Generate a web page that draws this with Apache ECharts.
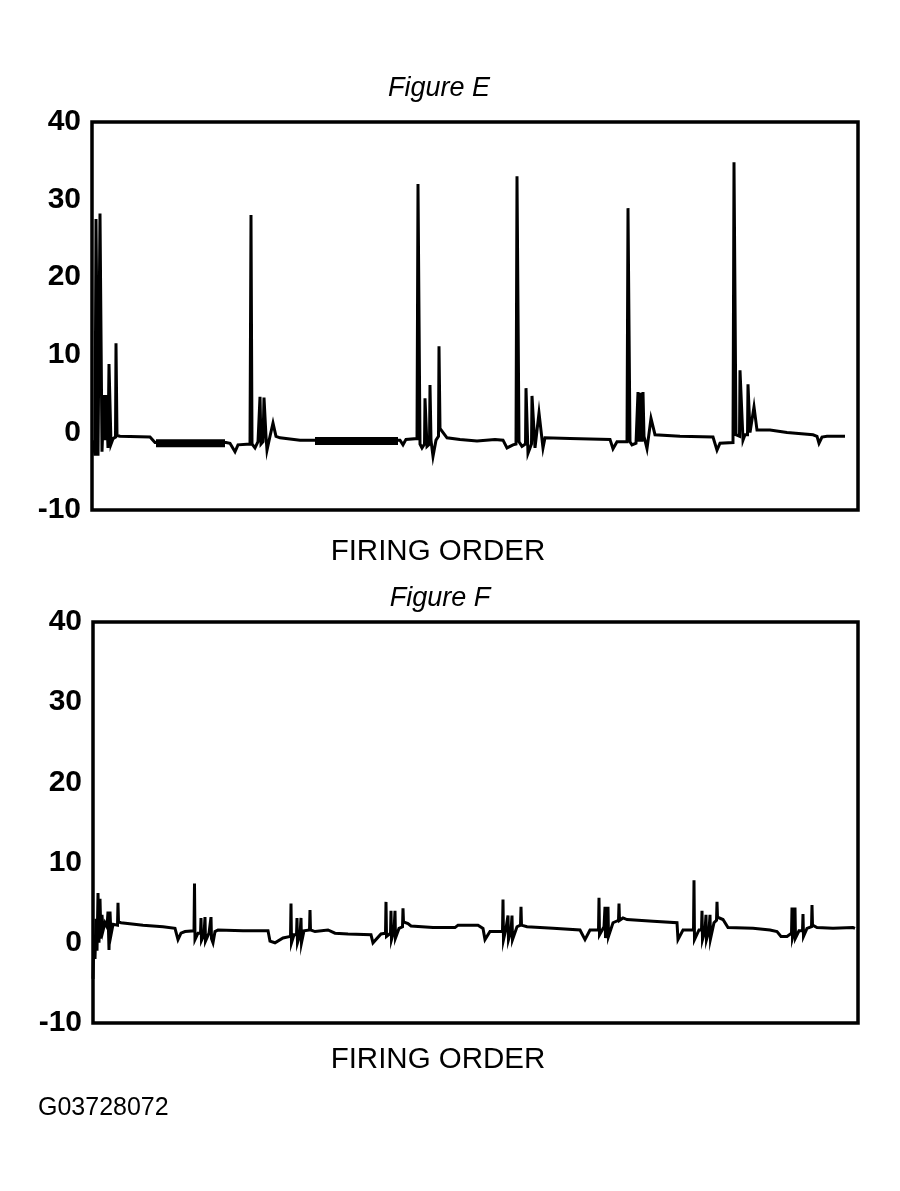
<!DOCTYPE html>
<html>
<head>
<meta charset="utf-8">
<script src="https://cdn.jsdelivr.net/npm/echarts@6/dist/echarts.min.js"></script>
<style>
html,body{margin:0;padding:0;background:#fff;}
#chart{width:900px;height:1191px;}
</style>
</head>
<body>
<div id="chart"></div>
<script>
// Y axis tick labels (kV)
const yTicks = [-10, 0, 10, 20, 30, 40];

// Figure E: time (arbitrary sweep units) and voltage
const eTime = [1,3,4,6,8,10,12,13,14,16,17,19,21,23.5,24,25,28,58,63,134,138,143,146,158,159,160,163,166,167.5,168,169,171,172,173,174,175,177,178,181,184,188,208,221,308,311,314,325,326,328,330,332.5,333,335,337.5,338,339,341,344,346.5,347,348,350,355,368,385,403,411,415,421,424,425,427,430,433.5,434,436,439.5,440,443,447,451,453,478,498,
  518,521,525,535,536,538,540,544,545.5,546,547,549,550,551,552,555,559,563,588,621,625,628,641,642,644,646,647.5,648,651,653,655.5,656,658,660,662,665,678,695,721,725,727,730,735,753];
const eVolt = [-1,-3,27.5,-3,28.2,-2.5,4.8,-1,4.8,-2,8.8,-1.5,-0.8,-0.6,11.5,-0.4,-0.5,-0.6,-1.3,-1.3,-1.4,-2.5,-1.6,-1.5,28,-1.5,-2.0,-1.2,-1.2,4.6,-1.5,-1.2,4.5,4.4,-0.5,-2.3,-2.3,-0.5,1.2,-0.5,-0.7,-1.0,-1.0,-1.0,-1.6,-0.9,-0.8,32,-1.5,-2.0,-1.5,4.4,-1.8,-1.5,6.1,-1,-3.1,-1,-0.5,11.1,0.5,0.3,-0.7,-0.9,-1.1,-0.9,-1.0,-2.0,-1.6,-1.5,33,-1.2,-1.8,-1.5,5.7,-2.7,-1.5,4.7,-2.0,2.5,-2.0,-0.7,-0.8,-0.85,
  -0.9,-2.1,-1.2,-1.2,28.9,-1.2,-1.6,-1.4,-1.4,5.2,-1.2,5.1,-1.2,5.2,-0.5,-2.1,1.8,-0.3,-0.5,-0.6,-2.3,-1.4,-1.3,34.8,-0.3,-0.5,-0.5,8.0,-1.0,-0.3,-0.3,6.2,0.0,0.1,3.3,0.3,0.3,0.0,-0.3,-0.5,-1.4,-0.6,-0.5,-0.5];

// Figure E: noisy (thick) baseline stretches
const bandStart = [64, 223];
const bandEnd = [133, 306];
const bandLevel = [-1.4, -1.1];

// Figure F: time and voltage
const fTime = [0,1,2,3,4,5,6,7,8,9,10,12,14,14.5,15,16,17,18,20,24.5,25,25.5,28,50,70,82,85,88,92,101,101.5,102,105,107.5,108,108.5,111,111.5,112,112.5,116,117.5,118,118.5,120,122,125,150,175,177,182,190,197.5,198,198.5,201,203.5,204,204.5,207,207.5,208,208.5,211,216.5,217,217.5,222,
  235,242,255,278,280,288,292.5,293,293.5,297.5,298,298.5,301,301.5,302,302.5,306,309.5,310,310.5,315,318,340,362,365,385,390,392,397,409.5,410,410.5,413,414.5,415,415.5,418,418.5,419,419.5,424,427.5,428,428.5,434,460,487,492,497,505.5,506,506.5,511,511.5,512,512.5,514,514.5,515,515.5,520,525.5,526,526.5,530,534,560,584,585,590,
  600.5,601,601.5,606,608.5,609,609.5,612,612.5,613,613.5,616,616.5,617,617.5,621,623.5,624,624.5,630,635,660,677,684,688,694,698.5,699,699.5,701.5,702,702.5,706,709.5,710,710.5,714,718.5,719,719.5,724,740,760,762];
const fVolt = [-4.5,1,-2,3,-1,6.2,0,5.5,0.5,3.5,1.5,2.5,2.0,2.0,3.9,-0.9,3.9,1.0,2.3,2.2,5.0,2.6,2.5,2.2,2.0,1.8,0.4,1.2,1.4,1.5,7.4,0.4,1.2,1.2,3.1,0.3,1.0,1.0,3.2,0.2,1.2,1.2,3.2,0.5,0.0,1.4,1.6,1.5,1.5,0.2,0.0,0.6,0.8,4.9,0.0,1.0,1.0,3.1,0.0,1.0,1.0,3.1,0.0,1.5,1.6,4.1,1.6,1.4,
  1.6,1.2,1.1,1.0,0.0,1.1,1.2,5.1,0.8,1.2,4.0,0.4,1.5,1.5,4.0,0.6,1.8,2.0,4.3,2.6,2.4,2.1,1.9,1.9,2.2,2.2,1.8,0.4,1.4,1.4,5.4,0.4,1.8,1.8,3.4,0.4,1.5,1.5,3.4,0.4,2.0,2.2,4.5,2.2,2.0,1.8,1.6,0.4,1.6,1.6,5.6,1.0,2.0,2.0,4.5,0.6,2.0,2.0,4.5,0.8,2.5,2.8,4.9,2.8,3.1,2.9,2.7,2.5,0.4,1.6,
  1.6,7.8,0.4,1.6,1.6,4.0,0.4,1.5,1.5,3.5,0.4,1.5,1.5,3.5,0.5,2.5,2.8,5.1,3.2,2.9,1.9,1.8,1.6,1.4,0.8,0.8,1.2,4.4,0.6,1.5,4.4,0.6,1.5,1.5,3.6,0.8,1.8,2.0,4.7,2.2,1.9,1.8,1.9,1.8];

const titles = ['Figure E', 'Figure F'];
const xLabel = 'FIRING ORDER';
const figureCode = 'G03728072';

const zip = (a, b) => a.map((t, i) => [t, b[i]]);

const chart = echarts.init(document.getElementById('chart'), null, {renderer: 'canvas'});
const fontFamily = '"Liberation Sans", Arial, Helvetica, sans-serif';

function yAxis(gridIndex) {
  return {
    type: 'value', gridIndex, min: yTicks[0], max: yTicks[yTicks.length - 1], interval: 10,
    axisLine: {show: false}, axisTick: {show: false}, splitLine: {show: false},
    axisLabel: {color: '#000', fontSize: 30, fontWeight: 'bold', fontFamily, margin: 11}
  };
}
function xAxis(gridIndex, max) {
  return {
    type: 'value', gridIndex, min: 0, max,
    axisLine: {show: false}, axisTick: {show: false}, splitLine: {show: false}, axisLabel: {show: false}
  };
}

const trace = {color: '#000', width: 3, join: 'miter'};
const bandSeries = bandStart.map((s, i) => ({
  type: 'line', xAxisIndex: 0, yAxisIndex: 0, showSymbol: false, symbol: 'none',
  data: [[s, bandLevel[i]], [bandEnd[i], bandLevel[i]]],
  lineStyle: {color: '#000', width: 8, cap: 'butt'}
}));

chart.setOption({
  animation: false,
  backgroundColor: '#fff',
  grid: [
    {left: 92, top: 122, width: 766, height: 388, show: true, borderColor: '#000', borderWidth: 3.5, backgroundColor: 'transparent'},
    {left: 93, top: 622, width: 765, height: 401, show: true, borderColor: '#000', borderWidth: 3.5, backgroundColor: 'transparent'}
  ],
  xAxis: [xAxis(0, 766), xAxis(1, 765)],
  yAxis: [yAxis(0), yAxis(1)],
  series: [
    {type: 'line', xAxisIndex: 0, yAxisIndex: 0, data: zip(eTime, eVolt), showSymbol: false, symbol: 'none', lineStyle: trace},
    ...bandSeries,
    {type: 'line', xAxisIndex: 1, yAxisIndex: 1, data: zip(fTime, fVolt), showSymbol: false, symbol: 'none', lineStyle: trace}
  ],
  graphic: [
    {type: 'text', x: 439, y: 88, style: {text: titles[0], fontSize: 27, fontStyle: 'italic', fontFamily, fill: '#000', textAlign: 'center', textVerticalAlign: 'middle'}},
    {type: 'text', x: 438, y: 552, style: {text: xLabel, fontSize: 29.5, fontFamily, fill: '#000', textAlign: 'center', textVerticalAlign: 'middle'}},
    {type: 'text', x: 440, y: 598, style: {text: titles[1], fontSize: 27, fontStyle: 'italic', fontFamily, fill: '#000', textAlign: 'center', textVerticalAlign: 'middle'}},
    {type: 'text', x: 438, y: 1060, style: {text: xLabel, fontSize: 29.5, fontFamily, fill: '#000', textAlign: 'center', textVerticalAlign: 'middle'}},
    {type: 'text', x: 38, y: 1108, style: {text: figureCode, fontSize: 25, fontFamily, fill: '#000', textAlign: 'left', textVerticalAlign: 'middle'}}
  ]
});
</script>
</body>
</html>
